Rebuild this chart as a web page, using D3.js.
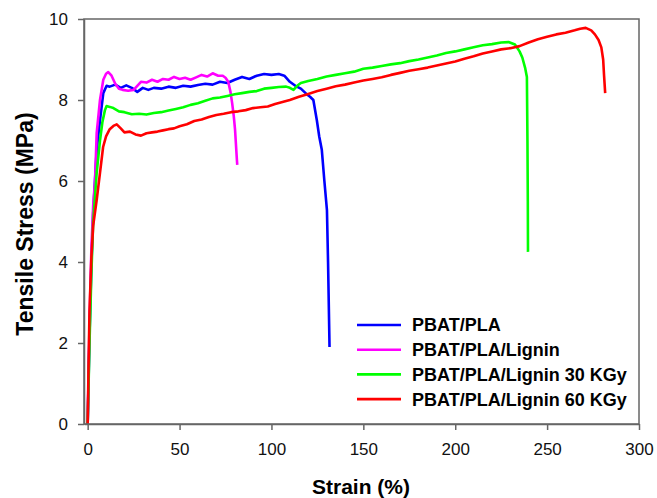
<!DOCTYPE html>
<html>
<head>
<meta charset="utf-8">
<script src="https://cdn.jsdelivr.net/npm/d3@7"></script>
<style>
  body { margin: 0; background: #fff; }
  svg { font-family: "Liberation Sans", Arial, sans-serif; }
</style>
</head>
<body>
<svg width="657" height="498"></svg>
<script>
// series names and colours
const seriesNames = ['PBAT/PLA', 'PBAT/PLA/Lignin', 'PBAT/PLA/Lignin 30 KGy', 'PBAT/PLA/Lignin 60 KGy'];
const seriesColors = ['#0000ff', '#ff00ff', '#00ff00', '#ff0000'];

// [strain %, stress MPa]
const pbatPla = [[0,0],[1,2.2],[2,3.9],[3,5.2],[4.9,6.77],[6.7,7.5],[8.5,8.17],[10.3,8.35],[12,8.33],[15,8.38],[18,8.3],[21,8.36],[24,8.3],[27,8.2],[30,8.3],[33,8.25],[36,8.3],[40,8.28],[44,8.33],[48,8.3],[52,8.35],[56,8.33],[60,8.37],[64,8.4],[68,8.38],[72,8.45],[76,8.42],[80,8.5],[84,8.57],[88,8.52],[92,8.6],[96,8.64],[100,8.62],[104,8.64],[107,8.6],[110,8.45],[113,8.35],[116,8.28],[119,8.15],[121,8.08],[122.8,8.0],[124.7,7.5],[126,7.1],[127.4,6.77],[128.8,6.0],[130.2,5.28],[130.8,4.0],[131.6,1.9]];
const pbatPlaLignin = [[0,0],[1,2.5],[2,4.3],[3,5.4],[4,6.0],[4.9,7.18],[6.7,8.0],[8.5,8.5],[10,8.65],[11.2,8.69],[13,8.6],[15,8.4],[17,8.28],[19,8.25],[22,8.23],[25,8.25],[27,8.35],[29,8.45],[32,8.43],[35,8.5],[38,8.45],[41,8.52],[44,8.5],[47,8.57],[50,8.52],[53,8.55],[56,8.5],[59,8.56],[62,8.62],[65,8.58],[68,8.66],[71,8.6],[73.5,8.6],[75,8.55],[76.5,8.45],[77.7,8.2],[78.6,7.93],[79.5,7.6],[80.2,7.26],[81.2,6.52],[81.4,6.4]];
const lignin30 = [[0,0],[1,2.0],[2,3.7],[3,5.0],[4.9,6.2],[6.7,7.0],[8,7.45],[9.4,7.75],[10.3,7.85],[12,7.83],[14,7.8],[17,7.72],[20,7.7],[24,7.65],[28,7.66],[32,7.64],[36,7.68],[40,7.7],[44,7.74],[48,7.78],[52,7.82],[56,7.88],[60,7.92],[64,7.98],[68,8.04],[72,8.06],[76,8.1],[80,8.14],[84,8.17],[88,8.2],[92,8.22],[96,8.28],[100,8.3],[104,8.32],[108,8.33],[110,8.3],[112,8.25],[114,8.35],[116,8.42],[120,8.47],[125,8.52],[130,8.58],[135,8.62],[140,8.66],[145,8.7],[150,8.77],[155,8.8],[160,8.84],[165,8.88],[170,8.91],[175,8.96],[180,9.0],[185,9.05],[190,9.1],[195,9.16],[200,9.2],[205,9.25],[210,9.3],[215,9.35],[220,9.38],[225,9.42],[229,9.43],[232.5,9.37],[235,9.2],[236.5,9.05],[238,8.8],[239,8.57],[239.3,7.0],[239.5,5.5],[239.6,4.25]];
const lignin60 = [[0,0],[0.5,1.5],[1,2.8],[2,4.1],[3,4.9],[4.9,5.53],[6.7,6.2],[8.4,6.84],[10,7.1],[12,7.28],[14,7.36],[15.8,7.4],[18,7.3],[20,7.2],[23,7.22],[26,7.15],[29,7.12],[32,7.18],[35,7.2],[38,7.22],[41,7.25],[44,7.28],[47,7.3],[50,7.35],[54,7.4],[58,7.48],[62,7.52],[66,7.58],[70,7.63],[74,7.66],[78,7.7],[82,7.72],[86,7.75],[90,7.8],[94,7.82],[98,7.84],[102,7.9],[106,7.95],[110,8.0],[115,8.08],[120,8.15],[125,8.22],[130,8.28],[135,8.34],[140,8.38],[145,8.43],[150,8.48],[155,8.52],[160,8.56],[165,8.62],[170,8.67],[175,8.72],[180,8.76],[185,8.8],[190,8.85],[195,8.9],[200,8.95],[205,9.02],[210,9.08],[215,9.15],[220,9.2],[225,9.25],[230,9.28],[235,9.33],[240,9.42],[245,9.5],[250,9.56],[255,9.62],[260,9.66],[265,9.72],[268,9.76],[271,9.78],[274,9.72],[276,9.62],[278,9.48],[279.5,9.3],[280.5,9.0],[281,8.6],[281.6,8.17]];
const seriesData = [pbatPla, pbatPlaLignin, lignin30, lignin60];

const xTicks = [0, 50, 100, 150, 200, 250, 300];
const yTicks = [0, 2, 4, 6, 8, 10];

const svg = d3.select('svg');
const margin = { left: 84, right: 18, top: 19, bottom: 74 };
const width = 657 - margin.left - margin.right;
const height = 498 - margin.top - margin.bottom;

const x = d3.scaleLinear().domain([-2, 300]).range([0, width]);
const y = d3.scaleLinear().domain([0, 10]).range([height, 0]);

const g = svg.append('g').attr('transform', `translate(${margin.left},${margin.top})`);

// curves
const line = d3.line().x((d) => x(d[0])).y((d) => y(d[1]));
g.selectAll('.curve')
  .data(seriesData)
  .join('path')
  .attr('class', 'curve')
  .attr('fill', 'none')
  .attr('stroke', (d, i) => seriesColors[i])
  .attr('stroke-width', 2.6)
  .attr('stroke-linejoin', 'round')
  .attr('d', line);

// frame
g.append('rect')
  .attr('width', width).attr('height', height)
  .attr('fill', 'none').attr('stroke', '#666').attr('stroke-width', 1.5);

const xAxis = g.append('g')
  .attr('transform', `translate(0,${height})`)
  .call(d3.axisBottom(x).tickValues(xTicks).tickSize(6).tickPadding(13).tickSizeOuter(0));
const yAxis = g.append('g')
  .call(d3.axisLeft(y).tickValues(yTicks).tickSize(6).tickPadding(10).tickSizeOuter(0));

[xAxis, yAxis].forEach((a) => {
  a.select('.domain').attr('stroke', '#666').attr('stroke-width', 1.5);
  a.selectAll('.tick line').attr('stroke', '#666').attr('stroke-width', 1.5);
  a.selectAll('.tick text')
    .attr('fill', '#111')
    .style('font-size', '17px')
    .style('font-family', '"Liberation Sans", Arial, sans-serif');
});

// axis titles
svg.append('text')
  .attr('x', 361).attr('y', 494)
  .attr('text-anchor', 'middle')
  .style('font-size', '21px').style('font-weight', 'bold')
  .text('Strain (%)');

svg.append('text')
  .attr('transform', 'translate(33,224) rotate(-90)')
  .attr('text-anchor', 'middle')
  .style('font-size', '23px').style('font-weight', 'bold')
  .text('Tensile Stress (MPa)');

// legend
const legend = svg.append('g').attr('transform', 'translate(357,325)');
const rows = legend.selectAll('g')
  .data(seriesNames)
  .join('g')
  .attr('transform', (d, i) => `translate(0,${i * 24.7})`);
rows.append('line')
  .attr('x1', 0).attr('x2', 44)
  .attr('stroke', (d, i) => seriesColors[i])
  .attr('stroke-width', 2.6);
rows.append('text')
  .attr('x', 55).attr('dy', '0.36em')
  .style('font-size', '18px').style('font-weight', 'bold')
  .text((d) => d);
</script>
</body>
</html>
